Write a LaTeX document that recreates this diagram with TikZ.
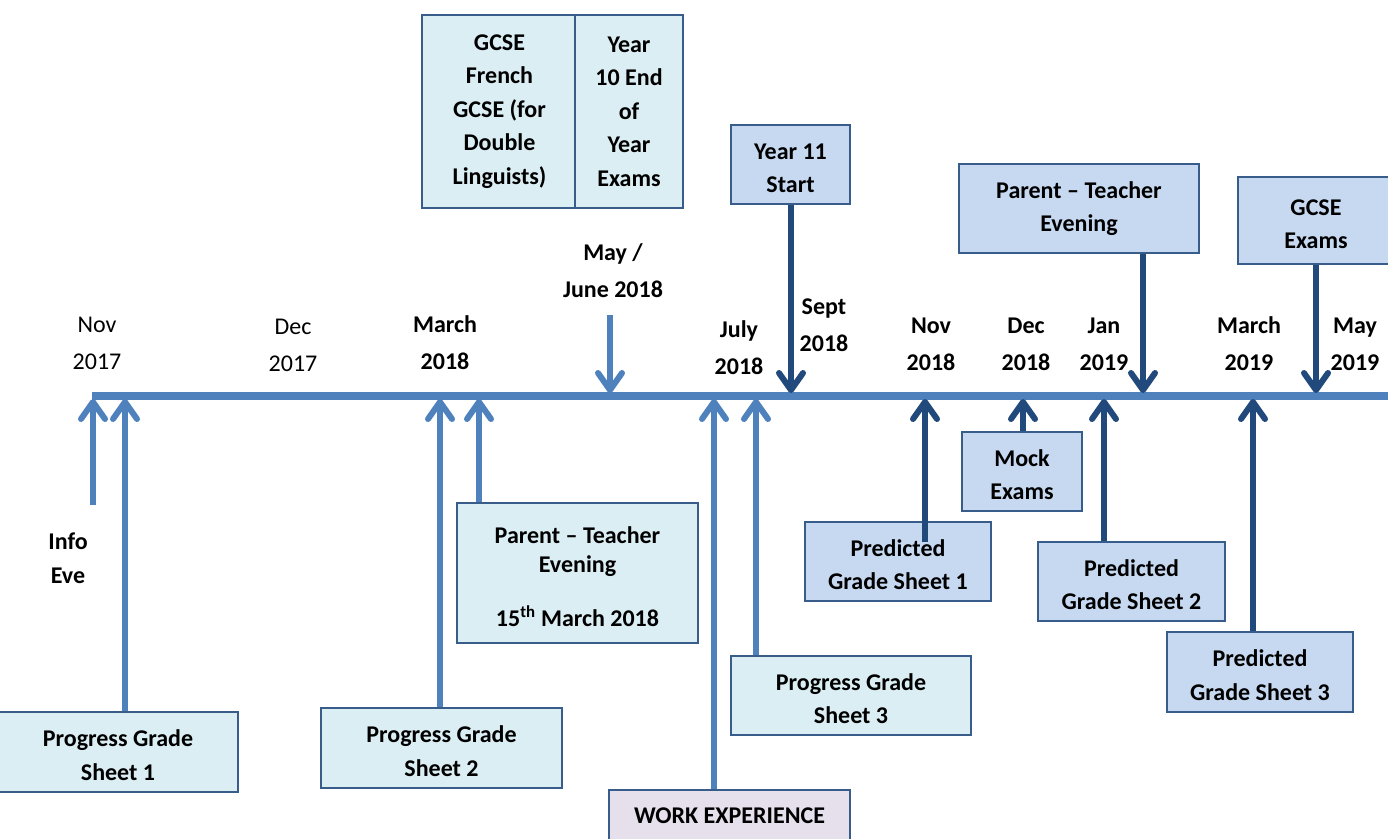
\documentclass[tikz,border=0pt]{standalone}
\usepackage{fontspec}
\setmainfont{Carlito}
\usetikzlibrary{arrows.meta}
\definecolor{lightarr}{HTML}{4F81BD}
\definecolor{darkarr}{HTML}{21497C}
\definecolor{bordercol}{HTML}{385D8A}
\definecolor{cyanfill}{HTML}{DBEEF4}
\definecolor{bluefill}{HTML}{C6D9F1}
\definecolor{lavfill}{HTML}{E5E0EC}
\begin{document}
\begin{tikzpicture}[x=1pt,y=-1pt,
  box/.style={draw=bordercol,line width=1.5pt,align=center,inner sep=0pt,
    font=\bfseries\fontsize{24}{33.5}\selectfont},
  cbox/.style={box,fill=cyanfill},
  bbox/.style={box,fill=bluefill},
  wbox/.style={box,fill=lavfill},
  month/.style={align=center,inner sep=0pt,font=\fontsize{24}{37}\selectfont},
  bmonth/.style={month,font=\bfseries\fontsize{24}{37}\selectfont},
  larrow/.style={draw=lightarr,line width=6pt,-{Straight Barb[length=17pt,width=24pt,round]}},
  darrow/.style={draw=darkarr,line width=6pt,-{Straight Barb[length=17pt,width=24pt,round]}}]
\useasboundingbox (0,0) rectangle (1388,838);
\clip (0,0) rectangle (1388,838);

% timeline
\draw[lightarr,line width=7.5pt] (92,396) -- (1400,396);

% month labels
\node[month]  (m1)  at (97,343)   {Nov\\2017};
\node[month]  (m2)  at (293,345)  {Dec\\2017};
\node[bmonth] (m3)  at (445,343)  {March\\2018};
\node[bmonth] (m4)  at (613,271)  {May /\\June 2018};
\node[bmonth] (m5)  at (739,348)  {July\\2018};
\node[bmonth] (m6)  at (824,325)  {Sept\\2018};
\node[bmonth] (m7)  at (931,344)  {Nov\\2018};
\node[bmonth] (m8)  at (1026,344) {Dec\\2018};
\node[bmonth] (m9)  at (1104,344) {Jan\\2019};
\node[bmonth] (m10) at (1249,344) {March\\2019};
\node[bmonth] (m11) at (1355,344) {May\\2019};

% boxes
\node[cbox,minimum width=240pt,minimum height=80pt] (pgs1) at (118,752) {\strut Progress Grade\\Sheet 1};
\node[cbox,minimum width=241pt,minimum height=80pt] (pgs2) at (441.5,748) {\strut Progress Grade\\Sheet 2};
\node[cbox,minimum width=241pt,minimum height=140pt] (pte1) at (577.5,573) {\strut Parent -- Teacher\\[-4pt]Evening\\[20pt]15\textsuperscript{th} March 2018};
\node[cbox,minimum width=155pt,minimum height=193pt] (french) at (499.5,111.5) {GCSE\\French\\GCSE (for\\Double\\Linguists)};
\node[cbox,minimum width=108pt,minimum height=193pt] (y10) at (629,111.5) {Year\\10 End\\of\\Year\\Exams};
\node[wbox,minimum width=241pt,minimum height=52pt] (work) at (729.5,816) {WORK EXPERIENCE};
\node[cbox,minimum width=240pt,minimum height=79pt] (pgs3) at (851,695.5) {\strut Progress Grade\\Sheet 3};
\node[bbox,minimum width=119pt,minimum height=79pt] (y11) at (790.5,164.5) {\strut Year 11\\Start};
\node[bbox,minimum width=186pt,minimum height=79pt] (pred1) at (898,561.5) {\strut Predicted\\Grade Sheet 1};
\node[bbox,minimum width=120pt,minimum height=79pt] (mock) at (1022,471.5) {\strut Mock\\Exams};
\node[bbox,minimum width=187pt,minimum height=79pt] (pred2) at (1131.5,581.5) {\strut Predicted\\Grade Sheet 2};
\node[bbox,minimum width=240pt,minimum height=89pt] (pte2) at (1079,208.5) {Parent -- Teacher\\Evening};
\node[bbox,minimum width=186pt,minimum height=80pt] (pred3) at (1260,672) {\strut Predicted\\Grade Sheet 3};
\node[bbox,minimum width=156pt,minimum height=87pt] (gcse) at (1316,220.5) {\strut GCSE\\Exams};

\node[align=center,inner sep=0pt,font=\bfseries\fontsize{24}{34}\selectfont] (info) at (68,558) {Info\\Eve};

% timeline points
\coordinate (tInfo) at (93,399);
\coordinate (infoTail) at (93,505);
\coordinate (tP1) at (125,399);
\coordinate (tP2) at (440,399);
\coordinate (tPT1) at (479,399);
\coordinate (tMay) at (610,393);
\coordinate (mayTail) at (610,315);
\coordinate (tWork) at (714,399);
\coordinate (tP3) at (756,399);
\coordinate (tY11) at (791,393);
\coordinate (tPr1) at (925,399);
\coordinate (pr1Tail) at (925,542);
\coordinate (tMock) at (1023,399);
\coordinate (tPr2) at (1104,399);
\coordinate (tPT2) at (1143,393);
\coordinate (tPr3) at (1253,399);
\coordinate (tGCSE) at (1316,393);

% arrows
\draw[larrow] (infoTail) -- (tInfo);
\draw[larrow] (pgs1.north -| tP1) -- (tP1);
\draw[larrow] (pgs2.north -| tP2) -- (tP2);
\draw[larrow] (pte1.north -| tPT1) -- (tPT1);
\draw[larrow] (mayTail) -- (tMay);
\draw[larrow] (work.north -| tWork) -- (tWork);
\draw[larrow] (pgs3.north -| tP3) -- (tP3);
\draw[darrow] (y11.south -| tY11) -- (tY11);
\draw[darrow] (pr1Tail) -- (tPr1);
\draw[darrow] (mock.north -| tMock) -- (tMock);
\draw[darrow] (pred2.north -| tPr2) -- (tPr2);
\draw[darrow] (pte2.south -| tPT2) -- (tPT2);
\draw[darrow] (pred3.north -| tPr3) -- (tPr3);
\draw[darrow] (gcse.south -| tGCSE) -- (tGCSE);
\end{tikzpicture}
\end{document}
